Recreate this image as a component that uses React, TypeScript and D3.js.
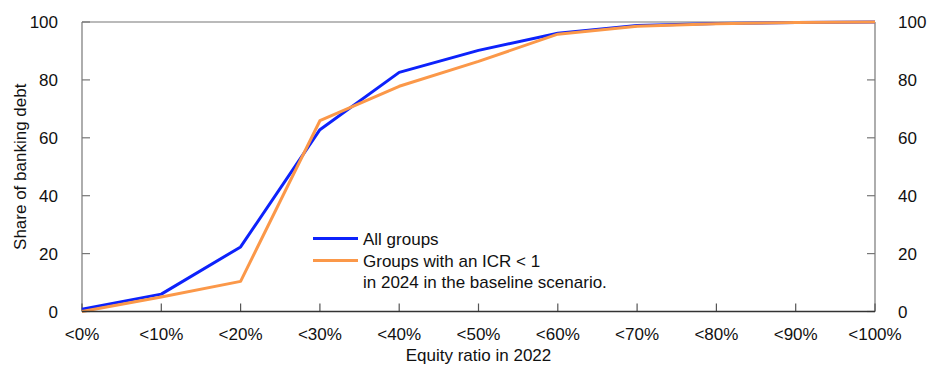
import { useEffect, useRef } from "react";
import * as d3 from "d3";

const categories = ["<0%", "<10%", "<20%", "<30%", "<40%", "<50%", "<60%", "<70%", "<80%", "<90%", "<100%"];
const allGroups = [0.8, 6, 22.3, 62.8, 82.6, 90.2, 96.1, 98.8, 99.5, 99.8, 100];
const icrGroups = [0, 5, 10.4, 65.9, 77.8, 86.4, 95.8, 98.5, 99.4, 99.8, 100];
const yTicks = [0, 20, 40, 60, 80, 100];
const legendLabels = ["All groups", "Groups with an ICR < 1", "in 2024 in the baseline scenario."];

const W = 929;
const H = 368;
const FONT = "'Liberation Sans', Arial, Helvetica, sans-serif";
const FS = 17;
const BLUE = "#0d22fb";
const ORANGE = "#fb9849";

export default function App() {
  const svgRef = useRef<SVGSVGElement>(null);

  useEffect(() => {
    if (!svgRef.current) return;
    const root = d3.select(svgRef.current);
    root.selectAll("*").remove();

    const left = 82, right = 875, top = 22, bottom = 311.5;

    const x = d3.scalePoint<string>().domain(categories).range([left, right]);
    const y = d3.scaleLinear().domain([0, 100]).range([bottom, top]);

    const g = root.append("g");

    // frame: top, left, right in gray
    g.append("line").attr("x1", left).attr("x2", right).attr("y1", top).attr("y2", top)
      .attr("stroke", "#777").attr("stroke-width", 1.2);
    g.append("line").attr("x1", left).attr("x2", left).attr("y1", top).attr("y2", bottom)
      .attr("stroke", "#777").attr("stroke-width", 1.2);
    g.append("line").attr("x1", right).attr("x2", right).attr("y1", top).attr("y2", bottom)
      .attr("stroke", "#777").attr("stroke-width", 1.2);

    // y ticks, both sides, pointing inward
    yTicks.forEach((t) => {
      g.append("line").attr("x1", left).attr("x2", left + 8).attr("y1", y(t)).attr("y2", y(t))
        .attr("stroke", "#777").attr("stroke-width", 1.2);
      g.append("line").attr("x1", right - 8).attr("x2", right).attr("y1", y(t)).attr("y2", y(t))
        .attr("stroke", "#777").attr("stroke-width", 1.2);
      g.append("text").attr("x", left - 24).attr("y", y(t)).attr("dy", "0.36em")
        .attr("text-anchor", "end").attr("font-family", FONT).attr("font-size", FS).attr("fill", "#111")
        .text(t);
      g.append("text").attr("x", right + 23).attr("y", y(t)).attr("dy", "0.36em")
        .attr("text-anchor", "start").attr("font-family", FONT).attr("font-size", FS).attr("fill", "#111")
        .text(t);
    });

    // x ticks pointing up
    categories.forEach((c) => {
      g.append("line").attr("x1", x(c)!).attr("x2", x(c)!).attr("y1", bottom).attr("y2", bottom - 8)
        .attr("stroke", "#555").attr("stroke-width", 1.2);
      g.append("text").attr("x", x(c)!).attr("y", 340).attr("text-anchor", "middle")
        .attr("font-family", FONT).attr("font-size", FS).attr("fill", "#111").text(c);
    });

    const line = d3.line<number>().x((_, i) => x(categories[i])!).y((d) => y(d));

    g.append("path").datum(allGroups).attr("d", line).attr("fill", "none")
      .attr("stroke", BLUE).attr("stroke-width", 3).attr("stroke-linejoin", "round");
    g.append("path").datum(icrGroups).attr("d", line).attr("fill", "none")
      .attr("stroke", ORANGE).attr("stroke-width", 3).attr("stroke-linejoin", "round");

    // bottom axis line drawn over the series
    g.append("line").attr("x1", left).attr("x2", right).attr("y1", bottom).attr("y2", bottom)
      .attr("stroke", "#333").attr("stroke-width", 1.5);

    // axis titles
    g.append("text").attr("x", (left + right) / 2).attr("y", 361).attr("text-anchor", "middle")
      .attr("font-family", FONT).attr("font-size", FS).attr("fill", "#111").text("Equity ratio in 2022");
    g.append("text").attr("transform", `translate(26,${(top + bottom) / 2}) rotate(-90)`)
      .attr("text-anchor", "middle").attr("font-family", FONT).attr("font-size", FS).attr("fill", "#111")
      .text("Share of banking debt");

    // legend
    const legX = 313, legY = 238.5;
    [BLUE, ORANGE].forEach((col, i) => {
      g.append("line").attr("x1", legX).attr("x2", legX + 45)
        .attr("y1", legY + i * 22).attr("y2", legY + i * 22)
        .attr("stroke", col).attr("stroke-width", 3);
    });
    legendLabels.forEach((txt, i) => {
      g.append("text").attr("x", legX + 50).attr("y", 245 + i * 21.5)
        .attr("font-family", FONT).attr("font-size", FS).attr("fill", "#111").text(txt);
    });
  }, []);

  return (
    <svg ref={svgRef} width={W} height={H}
      style={{ position: "absolute", left: 0, top: 0, background: "#fff" }} />
  );
}
